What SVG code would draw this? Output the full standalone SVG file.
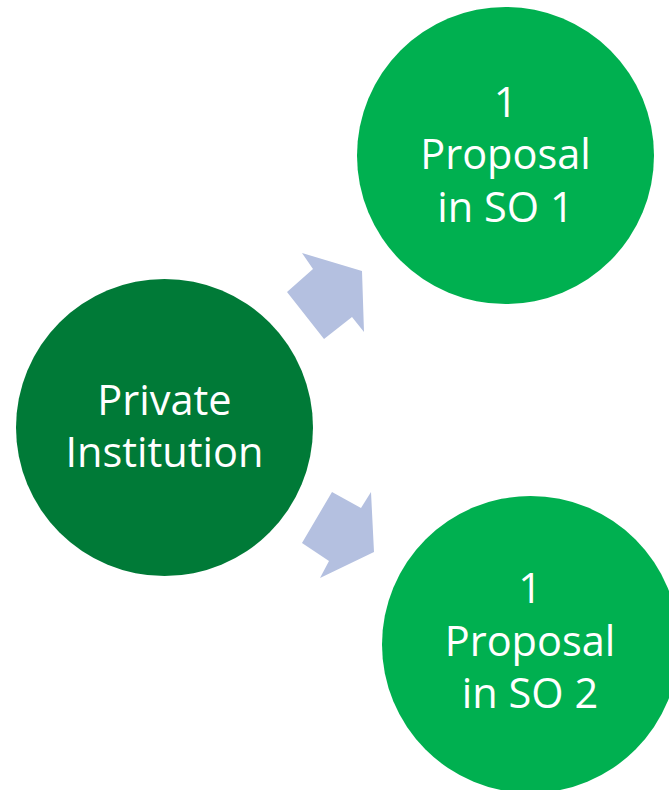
<svg xmlns="http://www.w3.org/2000/svg" width="669" height="790" viewBox="0 0 669 790">
<style>
.lbl{font-family:"Open Sans","Liberation Sans",sans-serif;font-size:41.5px;fill:#ffffff;text-anchor:middle}
.arrow{fill:#B4C0E0}
</style>
<rect width="669" height="790" fill="#ffffff"/>
<g id="connectors">
<polygon class="arrow" points="287,292 313,269 302,253 362,271 364,332 352,317 324,339"/>
<polygon class="arrow" points="332,492 361,508 371,492 374,552 320,578 329,561 302,543"/>
</g>
<g id="private-institution">
<circle cx="164.5" cy="427.5" r="148.5" fill="#007A37"/>
<text class="lbl" x="164.5" y="415">Private</text>
<text class="lbl" x="164.5" y="467">Institution</text>
</g>
<g id="proposal-so1">
<circle cx="505.5" cy="155.5" r="148.5" fill="#00B050"/>
<text class="lbl" x="505.5" y="117">1</text>
<text class="lbl" x="505.5" y="169">Proposal</text>
<text class="lbl" x="505.5" y="222">in SO 1</text>
</g>
<g id="proposal-so2">
<circle cx="530.5" cy="644.5" r="148.5" fill="#00B050"/>
<text class="lbl" x="530" y="603">1</text>
<text class="lbl" x="530" y="656">Proposal</text>
<text class="lbl" x="530" y="708">in SO 2</text>
</g>
</svg>
